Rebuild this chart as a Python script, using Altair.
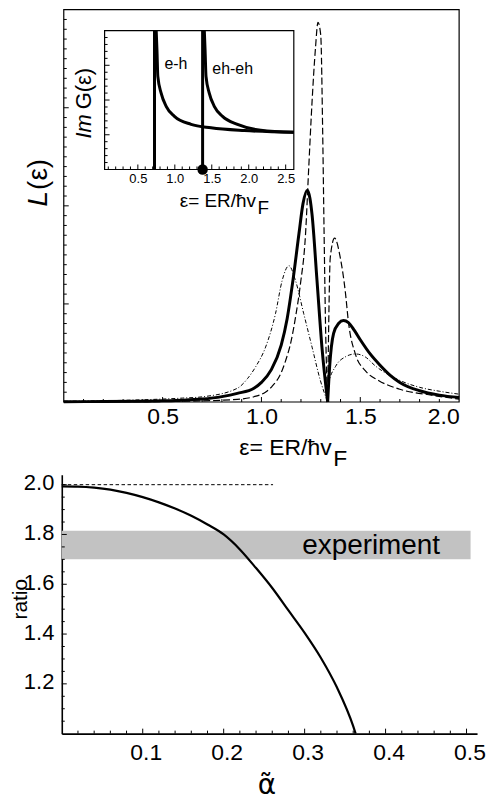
import altair as alt
import pandas as pd

# ---------------- top panel: L(eps) ----------------
eps_cusp = 1.335
solid_eps = [0.0, 0.2, 0.4, 0.5, 0.6, 0.7, 0.8, 0.878, 0.962, 1.0, 1.05, 1.1, 1.13, 1.16, 1.19, 1.21, 1.232,
             1.245, 1.256, 1.281, 1.306, 1.335, 1.345, 1.365, 1.39, 1.415, 1.44, 1.47, 1.5, 1.55, 1.6, 1.65,
             1.7, 1.8, 1.9, 2.0]
solid_L = [0.003, 0.005, 0.008, 0.012, 0.018, 0.03, 0.055, 0.088, 0.14, 0.2, 0.33, 0.58, 0.85, 1.25, 1.72, 2.02, 2.16,
           2.08, 1.91, 1.24, 0.56, 0.0, 0.36, 0.70, 0.80, 0.83, 0.81, 0.73, 0.635, 0.49, 0.375, 0.275,
           0.20, 0.115, 0.07, 0.045]

dash_eps = [0.0, 0.3, 0.5, 0.7, 0.878, 0.962, 1.02, 1.054, 1.1, 1.122, 1.15, 1.172, 1.197, 1.223, 1.239, 1.256,
            1.273, 1.286, 1.30, 1.31, 1.317, 1.325, 1.335, 1.34, 1.348, 1.37, 1.399, 1.424, 1.441, 1.475, 1.525,
            1.592, 1.7, 1.86, 2.0]
dash_L = [0.001, 0.003, 0.005, 0.012, 0.027, 0.054, 0.1, 0.16, 0.3, 0.42, 0.62, 0.86, 1.2, 1.71, 2.38, 3.06,
          3.6, 3.87, 3.74, 2.72, 1.71, 0.70, 0.0, 0.75, 1.47, 1.67, 1.47, 1.13, 0.80, 0.49, 0.32,
          0.22, 0.13, 0.07, 0.03]

dd_eps = [0.0, 0.35, 0.6, 0.71, 0.878, 0.93, 0.971, 1.021, 1.071, 1.105, 1.139, 1.172, 1.214, 1.256, 1.298,
          1.335, 1.34, 1.374, 1.424, 1.475, 1.525, 1.575, 1.7, 1.8, 1.9, 2.0]
dd_L = [0.008, 0.02, 0.04, 0.055, 0.14, 0.24, 0.36, 0.56, 0.9, 1.24, 1.39, 1.24, 0.9, 0.56, 0.22,
        0.0, 0.19, 0.36, 0.46, 0.49, 0.46, 0.37, 0.22, 0.15, 0.11, 0.08]

main_x_labels = [0.5, 1.0, 1.5, 2.0]

# ---------------- inset: Im G(eps) ----------------
eh_threshold = 0.725
eheh_threshold = 1.376
eh_eps = [0.748, 0.759, 0.770, 0.815, 0.883, 0.995, 1.22, 1.49, 1.94, 2.61]
eh_img = [4.0, 3.40, 2.68, 2.20, 1.82, 1.53, 1.30, 1.20, 1.12, 1.07]
eheh_eps = [1.399, 1.410, 1.422, 1.466, 1.534, 1.646, 1.848, 2.163, 2.61]
eheh_img = [4.0, 3.40, 2.68, 2.20, 1.82, 1.53, 1.30, 1.13, 1.07]
inset_x_labels = [0.5, 1.0, 1.5, 2.0, 2.5]

# ---------------- bottom panel: ratio vs alpha ----------------
alpha = [0.0, 0.02, 0.04, 0.06, 0.08, 0.10, 0.12, 0.14, 0.16, 0.18, 0.20, 0.22, 0.24, 0.26, 0.28,
         0.30, 0.32, 0.34, 0.36, 0.363]
ratio = [1.993, 1.992, 1.988, 1.980, 1.967, 1.950, 1.929, 1.904, 1.875, 1.840, 1.800, 1.740, 1.665, 1.585, 1.495,
         1.405, 1.305, 1.185, 1.03, 1.0]
ratio_ref = 2.0
ratio_ref_end = 0.261
band_low, band_high = 1.70, 1.815
band_end = 0.505
bottom_x_labels = [0.1, 0.2, 0.3, 0.4, 0.5]
bottom_y_labels = [1.2, 1.4, 1.6, 1.8, 2.0]

# ---------------- layout (pixels inside the plot area) ----------------
W, H = 417, 727
MAIN_X = ([0.0, 2.0], [2, 399])
MAIN_Y = ([0.0, 4.0], [394, 0])
INS_X = ([0.05, 2.61], [43, 233])
INS_Y = ([0.0, 4.0], [160.5, 21])
BOT_X = ([0.0, 0.513], [0, 417])
BOT_Y = ([1.0, 2.04], [727, 467])


def sc(spec):
    return alt.Scale(domain=spec[0], range=spec[1], nice=False, zero=False)


def px(spec, n):
    (d0, d1), (r0, r1) = spec
    return n * (d1 - d0) / abs(r1 - r0)


def seg_df(xs, ys, cusp):
    rows = []
    for x, y in zip(xs, ys):
        if x <= cusp:
            rows.append({"eps": x, "L": y, "seg": "a"})
        if x >= cusp:
            rows.append({"eps": x, "L": y, "seg": "b"})
    return pd.DataFrame(rows)


def xticks(vals, yspec, ybase, n):
    return pd.DataFrame({"t": vals, "a": [ybase] * len(vals), "b": [ybase + px(yspec, n)] * len(vals)})


def yticks(vals, xspec, xbase, n):
    return pd.DataFrame({"t": vals, "a": [xbase] * len(vals), "b": [xbase + px(xspec, n)] * len(vals)})


def tick_layers(xv_min, xv_maj, yv_min, yv_maj, xspec, yspec):
    out = []
    x0 = xspec[0][0]
    y0 = yspec[0][0]
    for vals, n in ((xv_min, 3), (xv_maj, 5)):
        out.append(alt.Chart(xticks(vals, yspec, y0, n)).mark_rule(color="black", strokeWidth=1).encode(
            x="t:Q", y="a:Q", y2="b:Q"))
    for vals, n in ((yv_min, 3), (yv_maj, 5)):
        out.append(alt.Chart(yticks(vals, xspec, x0, n)).mark_rule(color="black", strokeWidth=1).encode(
            y="t:Q", x="a:Q", x2="b:Q"))
    return out


noax = dict(ticks=False, domain=False, grid=False, title=None)

# ================= main panel =================
main_frame = alt.Chart(pd.DataFrame({"x0": [0.0], "x1": [2.0], "y0": [0.0], "y1": [4.0]})).mark_rect(
    fill="white", fillOpacity=0, stroke="black", strokeWidth=1.2).encode(
    x=alt.X("x0:Q", scale=sc(MAIN_X), axis=alt.Axis(orient="bottom", offset=-(H - 394), values=main_x_labels,
                                                     format=".1f", labelFontSize=23, labelPadding=4, **noax)),
    x2="x1:Q",
    y=alt.Y("y0:Q", scale=sc(MAIN_Y), axis=None),
    y2="y1:Q")

main_ticks = tick_layers([k / 10 for k in range(1, 20) if k % 5], [0.5, 1.0, 1.5],
                         [k / 10 for k in range(1, 40) if k % 10], [1.0, 2.0, 3.0], MAIN_X, MAIN_Y)

solid = alt.Chart(seg_df(solid_eps, solid_L, eps_cusp)).mark_line(
    color="black", strokeWidth=3, interpolate="monotone").encode(x="eps:Q", y="L:Q", detail="seg:N")
dashed = alt.Chart(seg_df(dash_eps, dash_L, eps_cusp)).mark_line(
    color="black", strokeWidth=1.2, strokeDash=[7, 3], interpolate="monotone").encode(
    x="eps:Q", y="L:Q", detail="seg:N")
dashdot = alt.Chart(seg_df(dd_eps, dd_L, eps_cusp)).mark_line(
    color="black", strokeWidth=1.0, strokeDash=[4, 2, 1, 2], interpolate="monotone").encode(
    x="eps:Q", y="L:Q", detail="seg:N")

main = alt.layer(main_frame, *main_ticks, dashdot, dashed, solid)

# ================= inset =================
ins_frame = alt.Chart(pd.DataFrame({"x0": [0.05], "x1": [2.61], "y0": [0.0], "y1": [4.0]})).mark_rect(
    fill="white", stroke="black", strokeWidth=1.2).encode(
    x=alt.X("x0:Q", scale=sc(INS_X), axis=alt.Axis(orient="bottom", offset=-(H - 160.5), values=inset_x_labels,
                                                    format=".1f", labelFontSize=13, labelPadding=3, **noax)),
    x2="x1:Q",
    y=alt.Y("y0:Q", scale=sc(INS_Y), axis=None),
    y2="y1:Q")

ins_ticks = tick_layers([k / 10 for k in range(1, 26) if k % 5], [0.5, 1.0, 1.5, 2.0, 2.5],
                        [k / 5 for k in range(1, 20) if k % 5], [1.0, 2.0, 3.0], INS_X, INS_Y)

thr = alt.Chart(pd.DataFrame({"t": [eh_threshold, eheh_threshold], "a": [0.0, 0.0], "b": [4.0, 4.0]})).mark_rule(
    color="black", strokeWidth=3).encode(x="t:Q", y="a:Q", y2="b:Q")
eh_line = alt.Chart(pd.DataFrame({"eps": eh_eps, "g": eh_img})).mark_line(
    color="black", strokeWidth=3, interpolate="monotone").encode(x="eps:Q", y="g:Q")
eheh_line = alt.Chart(pd.DataFrame({"eps": eheh_eps, "g": eheh_img})).mark_line(
    color="black", strokeWidth=3, interpolate="monotone").encode(x="eps:Q", y="g:Q")
dot = alt.Chart(pd.DataFrame({"eps": [eheh_threshold], "g": [0.0]})).mark_circle(
    color="black", opacity=1, size=110).encode(x="eps:Q", y="g:Q")
ins_text = alt.Chart(pd.DataFrame({"eps": [0.86, 1.507], "g": [3.05, 2.88], "s": ["e-h", "eh-eh"]})).mark_text(
    align="left", baseline="middle", fontSize=16, color="black").encode(x="eps:Q", y="g:Q", text="s:N")

inset = alt.layer(ins_frame, *ins_ticks, thr, eh_line, eheh_line, dot, ins_text)

# ================= bottom panel =================
band = alt.Chart(pd.DataFrame({"x0": [0.0], "x1": [band_end], "lo": [band_low], "hi": [band_high]})).mark_rect(
    color="#c2c2c2").encode(
    x=alt.X("x0:Q", scale=sc(BOT_X), axis=alt.Axis(orient="bottom", offset=0, values=bottom_x_labels, format=".1f",
                                                    labelFontSize=23, labelPadding=8, labelOffset=3, ticks=False,
                                                    grid=False, title=None, domain=True, domainWidth=1.6)),
    x2="x1:Q",
    y=alt.Y("lo:Q", scale=sc(BOT_Y), axis=alt.Axis(orient="left", offset=0, values=bottom_y_labels, format=".1f",
                                                    labelFontSize=22, labelPadding=8, labelOffset=-2, ticks=False,
                                                    grid=False, title=None, domain=True, domainWidth=1.6)),
    y2="hi:Q")

bot_ticks = tick_layers([k / 50 for k in range(1, 26) if k % 5], bottom_x_labels,
                        [1 + k / 20 for k in range(1, 21) if k % 4], bottom_y_labels, BOT_X, BOT_Y)

ref_line = alt.Chart(pd.DataFrame({"x0": [0.0], "x1": [ratio_ref_end], "y": [ratio_ref]})).mark_rule(
    color="black", strokeWidth=1, strokeDash=[3.5, 2.5]).encode(x="x0:Q", x2="x1:Q", y="y:Q")
ratio_line = alt.Chart(pd.DataFrame({"alpha": alpha, "ratio": ratio})).mark_line(
    color="black", strokeWidth=2.2, interpolate="monotone").encode(x="alpha:Q", y="ratio:Q")
exp_text = alt.Chart(pd.DataFrame({"a": [0.297], "r": [1.754], "s": ["experiment"]})).mark_text(
    align="left", baseline="middle", fontSize=28, color="black").encode(x="a:Q", y="r:Q", text="s:N")

bottom = alt.layer(band, *bot_ticks, ref_line, ratio_line, exp_text)


# ================= titles (text annotations in pixels) =================
def note(s, x, y, **kw):
    return alt.Chart(pd.DataFrame({"s": [s]})).mark_text(color="black", **kw).encode(
        x=alt.value(x), y=alt.value(y), text="s:N")


notes = alt.layer(
    note("ε= ER/ħv", 271, 447, align="right", baseline="alphabetic", fontSize=23),
    note("F", 272.5, 458, align="left", baseline="alphabetic", fontSize=23),
    note("ε= ER/ħv", 195, 198.5, align="right", baseline="alphabetic", fontSize=19),
    note("F", 196.5, 205, align="left", baseline="alphabetic", fontSize=19),
    note("L", -15, 182, align="right", baseline="alphabetic", angle=270, fontSize=28, fontStyle="italic"),
    note("(ε)", -15, 181, align="left", baseline="alphabetic", angle=270, fontSize=28),
    note("Im", 29, 105, align="right", baseline="alphabetic", angle=270, fontSize=22, fontStyle="italic"),
    note("G(ε)", 29, 100, align="left", baseline="alphabetic", angle=270, fontSize=22),
    note("ratio", -35, 592, align="center", baseline="alphabetic", angle=270, fontSize=21),
    note("α\u0303", 206, 788, align="center", baseline="alphabetic", fontSize=28, font="DejaVu Sans"),
)

chart = alt.layer(main, inset, bottom, notes).resolve_scale(
    x="independent", y="independent"
).properties(
    width=W, height=H,
    autosize=alt.AutoSizeParams(type="none"),
    padding={"left": 54, "top": 0, "right": 12, "bottom": 70},
).configure(font="Liberation Sans").configure_view(stroke=None).configure_axis(
    labelColor="black", domainColor="black", labelFont="Liberation Sans")

chart.save("out.html", embed_options={"renderer": "svg", "actions": False})
